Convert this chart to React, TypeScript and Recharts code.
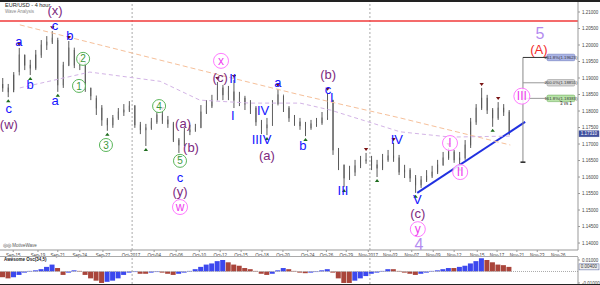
import React from "react";
import { ComposedChart, Bar, Scatter, XAxis, YAxis, ReferenceLine, Cell } from "recharts";

// EUR/USD 4h candles, one slot per half trading day
const firstOpen = 1.188;
const closes = [
  1.187, 1.1858, 1.1909, 1.197, 1.1939, 1.193, 1.197, 1.2, 1.2009, 1.2021,
  1.1879, 1.1939, 1.1991, 1.1939, 1.1949, 1.187, 1.1846, 1.1809, 1.1773, 1.1758,
  1.1779, 1.1797, 1.1803, 1.1815, 1.1758, 1.1743, 1.1749, 1.1767, 1.1788, 1.1773,
  1.1761, 1.1712, 1.1697, 1.1737, 1.1743, 1.1749, 1.1797, 1.1815, 1.1833, 1.187,
  1.1849, 1.1858, 1.1833, 1.1839, 1.1821, 1.1809, 1.1767, 1.1749, 1.1758, 1.1818,
  1.1849, 1.1809, 1.1779, 1.1767, 1.1755, 1.1749, 1.1761, 1.1764, 1.1779, 1.1833,
  1.1682, 1.1637, 1.1597, 1.1615, 1.1634, 1.1652, 1.1652, 1.1637, 1.1627, 1.1652,
  1.1664, 1.1658, 1.1615, 1.1621, 1.1597, 1.1576, 1.1591, 1.1603, 1.1615, 1.1637,
  1.1658, 1.1676, 1.1652, 1.1658, 1.1697, 1.1767, 1.1809, 1.1839, 1.1803, 1.1779,
  1.1809, 1.1797, 1.1731,
];
const highs = [
  1.19, 1.1882, 1.1918, 1.1991, 1.197, 1.1955, 1.1985, 1.2015, 1.2027, 1.2042,
  1.2015, 1.1949, 1.2012, 1.1985, 1.1961, 1.1949, 1.187, 1.1839, 1.1818, 1.1779,
  1.1788, 1.1809, 1.1821, 1.183, 1.1818, 1.1767, 1.1761, 1.1779, 1.1797, 1.1797,
  1.1785, 1.1767, 1.1718, 1.1749, 1.1758, 1.1761, 1.1818, 1.1833, 1.1849, 1.1888,
  1.1879, 1.1876, 1.1894, 1.1858, 1.1846, 1.1833, 1.1815, 1.1773, 1.1779, 1.1833,
  1.1867, 1.1846, 1.1815, 1.1788, 1.1779, 1.1767, 1.1773, 1.1779, 1.1797, 1.1855,
  1.1833, 1.1688, 1.1637, 1.1634, 1.1652, 1.1664, 1.1673, 1.1664, 1.1652, 1.167,
  1.1682, 1.1703, 1.1667, 1.1637, 1.1627, 1.1606, 1.1603, 1.1621, 1.1634, 1.1652,
  1.1676, 1.1688, 1.1682, 1.1676, 1.1712, 1.1779, 1.1821, 1.187, 1.1849, 1.1809,
  1.1827, 1.1821, 1.1803,
];
const lows = [
  1.1858, 1.1842, 1.1864, 1.1918, 1.1924, 1.1909, 1.1924, 1.1961, 1.1985, 1.2003,
  1.1858, 1.187, 1.1936, 1.193, 1.1924, 1.1858, 1.1833, 1.1788, 1.1755, 1.174,
  1.1749, 1.1773, 1.1785, 1.1797, 1.1749, 1.173, 1.1694, 1.1743, 1.1761, 1.1761,
  1.1749, 1.1706, 1.1673, 1.1694, 1.1727, 1.1737, 1.1749, 1.1791, 1.1809, 1.1833,
  1.1833, 1.1833, 1.1809, 1.1815, 1.1803, 1.1791, 1.1755, 1.173, 1.1727, 1.1755,
  1.1821, 1.1797, 1.1767, 1.1755, 1.1743, 1.1724, 1.1743, 1.1752, 1.1758, 1.1773,
  1.1667, 1.1621, 1.157, 1.1591, 1.1603, 1.1627, 1.164, 1.1621, 1.16, 1.1621,
  1.1646, 1.1646, 1.1606, 1.1597, 1.1585, 1.1552, 1.1567, 1.1585, 1.1597, 1.1609,
  1.1634, 1.1652, 1.1643, 1.1634, 1.1652, 1.1688, 1.1758, 1.1803, 1.1791, 1.1752,
  1.1773, 1.1785, 1.1727,
];

// Awesome oscillator (34,5)
const aoValues = [
  -0.005, -0.006, -0.005, -0.003, -0.001, 0.0005, 0.001, 0.002, 0.004, 0.006,
  0.003, -0.003, -0.001, 0.001, 0.0005, -0.003, -0.006, -0.008, -0.01, -0.009,
  -0.008, -0.006, -0.003, -0.001, -0.0005, -0.002, -0.002, -0.001, -0.0005, -0.001,
  -0.002, -0.003, -0.002, -0.001, 0.0005, 0.002, 0.004, 0.006, 0.007, 0.009,
  0.01, 0.008, 0.006, 0.005, 0.003, 0.002, 0.0005, -0.002, -0.003, -0.002,
  0.001, 0.003, 0.002, 0.0005, -0.001, -0.0015, -0.001, -0.0005, 0.001, 0.002,
  -0.001, -0.006, -0.01, -0.01, -0.008, -0.006, -0.004, -0.002, -0.001, 0.0005,
  0.002, 0.002, 0.0005, -0.001, -0.002, -0.003, -0.002, -0.001, 0.0005, 0.001,
  0.002, 0.003, 0.003, 0.004, 0.005, 0.007, 0.009, 0.0115, 0.01, 0.008,
  0.006, 0.0055, 0.004,
];

const dateLabels = [
  "Sep-15", "Sep-19", "Sep-21", "Sep-24", "Sep-27", "Oct-2017", "Oct-04", "Oct-06", "Oct-10",
  "Oct-12", "Oct-15", "Oct-18", "Oct-20", "Oct-24", "Oct-26", "Oct-29", "Nov-2017", "Nov-03",
  "Nov-07", "Nov-09", "Nov-12", "Nov-15", "Nov-17", "Nov-21", "Nov-23", "Nov-26",
];
const dateSlots = [
  1.9, 6.4, 10.0, 14.0, 18.2, 23.3, 27.5, 31.5, 35.7, 39.5, 43.3, 47.1, 50.9, 55.4, 58.8,
  62.4, 66.4, 70.4, 74.3, 78.2, 82.0, 86.2, 89.8, 93.4, 97.1, 100.9,
];
const monthSlots = [23.5, 66.7];

const priceTicks = [
  1.14, 1.145, 1.15, 1.155, 1.16, 1.165, 1.17, 1.175, 1.18, 1.185, 1.19, 1.195, 1.2, 1.205, 1.21,
];
const aoTicks = [-0.01, 0.01];

const redLevel = 1.2073;

const highPivots = [3, 9, 12, 29, 39, 42, 50, 59, 66, 71, 81, 87, 90];
const lowPivots = [1, 5, 10, 19, 26, 32, 48, 55, 62, 68, 75, 83, 89];

const waveLabels = [
  { slot: 9.5, price: 1.2106, text: "(x)", kind: "purple" },
  { slot: 9.5, price: 1.2061, text: "c", kind: "blue" },
  { slot: 2.95, price: 1.2012, text: "a", kind: "blue" },
  { slot: 4.95, price: 1.1882, text: "b", kind: "blue" },
  { slot: 12.2, price: 1.203, text: "b", kind: "blue" },
  { slot: 9.5, price: 1.1833, text: "a", kind: "blue" },
  { slot: 1.1, price: 1.1809, text: "c", kind: "blue" },
  { slot: 1.1, price: 1.1761, text: "(w)", kind: "purple" },
  { slot: 14.6, price: 1.1958, text: "2", kind: "green" },
  { slot: 13.85, price: 1.1876, text: "1", kind: "green" },
  { slot: 18.75, price: 1.1697, text: "3", kind: "green" },
  { slot: 28.4, price: 1.1815, text: "4", kind: "green" },
  { slot: 32.2, price: 1.1649, text: "5", kind: "green" },
  { slot: 32.2, price: 1.16, text: "c", kind: "blue" },
  { slot: 32.2, price: 1.1558, text: "(y)", kind: "purple" },
  { slot: 32.2, price: 1.1509, text: "w", kind: "pink" },
  { slot: 32.75, price: 1.1764, text: "(a)", kind: "purple" },
  { slot: 34.2, price: 1.1691, text: "(b)", kind: "purple" },
  { slot: 39.65, price: 1.1952, text: "x", kind: "pink" },
  { slot: 39.5, price: 1.1903, text: "(c)", kind: "purple" },
  { slot: 41.8, price: 1.19, text: "II", kind: "blue" },
  { slot: 41.8, price: 1.1788, text: "I", kind: "blue" },
  { slot: 47.3, price: 1.1803, text: "IV", kind: "blue" },
  { slot: 46.2, price: 1.1715, text: "III", kind: "blue" },
  { slot: 48.0, price: 1.1715, text: "V", kind: "blue" },
  { slot: 48.0, price: 1.1667, text: "(a)", kind: "purple" },
  { slot: 50.0, price: 1.1888, text: "a", kind: "blue" },
  { slot: 54.5, price: 1.1697, text: "b", kind: "blue" },
  { slot: 59.1, price: 1.1912, text: "(b)", kind: "purple" },
  { slot: 59.1, price: 1.1867, text: "c", kind: "blue" },
  { slot: 59.8, price: 1.1842, text: "I", kind: "blue" },
  { slot: 61.8, price: 1.1561, text: "III", kind: "blue" },
  { slot: 71.6, price: 1.1715, text: "IV", kind: "blue" },
  { slot: 75.3, price: 1.1533, text: "V", kind: "blue" },
  { slot: 75.4, price: 1.1491, text: "(c)", kind: "purple" },
  { slot: 75.4, price: 1.1442, text: "y", kind: "pink" },
  { slot: 75.6, price: 1.1397, text: "4", kind: "lav" },
  { slot: 81.25, price: 1.1703, text: "I", kind: "pink" },
  { slot: 83.1, price: 1.1615, text: "II", kind: "pink" },
  { slot: 94.3, price: 1.1845, text: "III", kind: "pink" },
  { slot: 97.6, price: 1.2036, text: "5", kind: "lav" },
  { slot: 97.4, price: 1.1988, text: "(A)", kind: "red" },
];

const orangeMA = [
  { slot: 3.1, price: 1.2061 },
  { slot: 17.7, price: 1.2 },
  { slot: 35.8, price: 1.1924 },
  { slot: 54.0, price: 1.1849 },
  { slot: 72.2, price: 1.1779 },
  { slot: 92.2, price: 1.1697 },
];
const lavenderMA = [
  { slot: 3.1, price: 1.187 },
  { slot: 15.8, price: 1.1918 },
  { slot: 28.6, price: 1.189 },
  { slot: 35.8, price: 1.1833 },
  { slot: 44.9, price: 1.1824 },
  { slot: 54.0, price: 1.1824 },
  { slot: 59.5, price: 1.1803 },
  { slot: 72.2, price: 1.1737 },
  { slot: 81.3, price: 1.1721 },
  { slot: 92.2, price: 1.1724 },
];

const trendLine = [
  { slot: 75.3, price: 1.1552 },
  { slot: 94.9, price: 1.1767 },
];

const projSlot = 94.5;
const projEndSlot = 99.1;
const projBottom = 1.1645;
const fibLevels = [1.19623, 1.18855, 1.18383];
const fibNames = ["261.8%(1.19623)", "200.0%(1.18855)", "161.8%(1.18383)"];
const fibFills = ["#aab4e6", "#d6d6d6", "#b9e4a9"];
const fibStrokes = ["#6f7cc0", "#999999", "#6fae5c"];

const C = {
  blue: "#1414ff",
  purple: "#7d2a80",
  green: "#3c9a3c",
  pink: "#ee3cee",
  lav: "#b48cf0",
  red: "#f22a2a",
};

const candles = closes.map((c, i) => ({
  slot: i,
  open: i === 0 ? firstOpen : closes[i - 1],
  close: c,
  high: highs[i],
  low: lows[i],
}));

const aoRows = aoValues.map((v, i) => ({ slot: i, ao: v }));

const markers = [
  ...highPivots.map((s) => ({ slot: s, price: highs[s], dir: "down" })),
  ...lowPivots.map((s) => ({ slot: s, price: lows[s], dir: "up" })),
];

const fibTags = fibLevels.map((p, i) => ({ slot: 101.4, price: p, text: fibNames[i], idx: i }));

const lastPrice = closes[closes.length - 1];
const lastAo = aoValues[aoValues.length - 1];

const axisFont = "Liberation Sans, Arial, sans-serif";

function Candle(props: any) {
  const { x, y, width, height, payload } = props;
  if (!payload) return null;
  const top = Math.min(y, y + height);
  const h = Math.abs(height);
  const span = payload.high - payload.low || 1e-9;
  const py = (p: number) => top + ((payload.high - p) / span) * h;
  const cx = x + width / 2;
  const yo = py(payload.open);
  const yc = py(payload.close);
  const up = payload.close >= payload.open;
  const bt = Math.min(yo, yc);
  const bh = Math.max(1, Math.abs(yc - yo));
  return (
    <g>
      <line x1={cx} x2={cx} y1={top} y2={top + h} stroke="#5a5a5a" strokeWidth={1} />
      <rect x={x} y={bt} width={width} height={bh} fill={up ? "#ffffff" : "#707070"} stroke="#5a5a5a" strokeWidth={0.7} />
    </g>
  );
}

function Marker(props: any) {
  const { cx, cy, payload } = props;
  if (payload.dir === "down") {
    const t = cy - 2;
    return <path d={`M${cx - 2.2},${t - 3} L${cx + 2.2},${t - 3} L${cx},${t} Z`} fill="#7a1414" />;
  }
  const b = cy + 2;
  return <path d={`M${cx - 2.2},${b + 3} L${cx + 2.2},${b + 3} L${cx},${b} Z`} fill="#1d6b1d" />;
}

function WaveLabel(props: any) {
  const { cx, cy, payload } = props;
  const k = payload.kind;
  if (k === "green" || k === "pink") {
    const r = k === "green" ? 6.5 : payload.text.length > 2 ? 8 : 7.5;
    return (
      <g>
        <circle cx={cx} cy={cy} r={r} fill="#ffffff" fillOpacity={0.85} stroke={k === "green" ? "#59b559" : "#ff7aff"} strokeWidth={1} />
        <text x={cx} y={cy} dy="0.36em" textAnchor="middle" fontSize={k === "green" ? 10 : 12} fill={C[k as "green"]} fontFamily={axisFont}>
          {payload.text}
        </text>
      </g>
    );
  }
  const size = k === "lav" ? 16 : 13;
  return (
    <text x={cx} y={cy} dy="0.36em" textAnchor="middle" fontSize={size} fill={C[k as "blue"]} fontFamily={axisFont}>
      {payload.text}
    </text>
  );
}

function FibTag(props: any) {
  const { cx, cy, payload } = props;
  const w = 28;
  const h = 6.5;
  return (
    <g>
      <rect x={cx - w / 2} y={cy - h / 2} width={w} height={h} rx={1.5} fill={fibFills[payload.idx]} stroke={fibStrokes[payload.idx]} strokeWidth={0.6} />
      <text x={cx} y={cy} dy="0.35em" textAnchor="middle" fontSize={4.3} fill="#333" fontFamily={axisFont}>
        {payload.text}
      </text>
    </g>
  );
}

function AxisTag(props: any) {
  const { viewBox, text, fill, color } = props;
  if (!viewBox) return null;
  const x = viewBox.x + viewBox.width + 1;
  const y = viewBox.y;
  return (
    <g>
      <rect x={x} y={y - 3} width={20} height={6} fill={fill} stroke="#4a5a9a" strokeWidth={0.5} />
      <text x={x + 10} y={y} dy="0.35em" textAnchor="middle" fontSize={4.5} fill={color} fontFamily={axisFont}>
        {text}
      </text>
    </g>
  );
}

const noDot = () => <g />;

const xDomain = [-0.5, 104.5];

export default function App() {
  const fmtPrice = (v: number) => v.toFixed(5);
  const tickStyle = { fontSize: 4.5, fill: "#444", fontFamily: axisFont };
  return (
    <div style={{ position: "absolute", left: 0, top: 0, width: 600, height: 285, background: "#fff", overflow: "hidden", fontFamily: axisFont }}>
      <ComposedChart width={600} height={258} data={candles} margin={{ top: 2, right: 0, bottom: 0, left: 0 }}>
        <XAxis
          type="number"
          dataKey="slot"
          domain={xDomain}
          ticks={dateSlots}
          interval={0}
          tickFormatter={(v: number, i: number) => dateLabels[i]}
          height={8}
          tickSize={2}
          tick={tickStyle}
          axisLine={{ stroke: "#999" }}
          tickLine={{ stroke: "#999" }}
          allowDataOverflow
        />
        <YAxis
          orientation="right"
          domain={[1.13789, 1.21303]}
          ticks={priceTicks}
          interval={0}
          width={22}
          tickSize={2}
          tickFormatter={fmtPrice}
          tick={tickStyle}
          axisLine={{ stroke: "#999" }}
          tickLine={{ stroke: "#999" }}
          allowDataOverflow
        />
        {monthSlots.map((s) => (
          <ReferenceLine key={s} x={s} stroke="#aaa" strokeDasharray="2 2" />
        ))}
        <ReferenceLine y={redLevel} stroke="#f03a3a" strokeWidth={1.5} />
        <Scatter data={orangeMA} dataKey="price" line={{ stroke: "#f6c09a", strokeDasharray: "5 3", strokeWidth: 1 }} shape={noDot} isAnimationActive={false} />
        <Scatter data={lavenderMA} dataKey="price" line={{ stroke: "#d3b4e6", strokeDasharray: "4 3", strokeWidth: 1 }} shape={noDot} isAnimationActive={false} />
        <Bar dataKey={(d: any) => [d.low, d.high]} barSize={3} shape={<Candle />} isAnimationActive={false} />
        <ReferenceLine segment={[{ x: trendLine[0].slot, y: trendLine[0].price }, { x: trendLine[1].slot, y: trendLine[1].price }]} stroke="#2030e0" strokeWidth={2} />
        <ReferenceLine segment={[{ x: projSlot, y: fibLevels[0] }, { x: projSlot, y: projBottom }]} stroke="#888" strokeWidth={1} />
        <ReferenceLine segment={[{ x: projSlot - 0.45, y: projBottom }, { x: projSlot + 0.45, y: projBottom }]} stroke="#222" strokeWidth={1.5} />
        {fibLevels.map((p, i) => (
          <ReferenceLine key={p} segment={[{ x: projSlot, y: p }, { x: projEndSlot, y: p }]} stroke={i === 0 ? "#333" : "#999"} strokeWidth={1} />
        ))}
        <ReferenceLine y={lastPrice} stroke="none" label={<AxisTag text={lastPrice.toFixed(5)} fill="#3f4f9f" color="#fff" />} />
        <Scatter data={markers} dataKey="price" shape={<Marker />} isAnimationActive={false} />
        <Scatter data={fibTags} dataKey="price" shape={<FibTag />} isAnimationActive={false} />
        <Scatter data={waveLabels} dataKey="price" shape={<WaveLabel />} isAnimationActive={false} />
      </ComposedChart>

      <div style={{ position: "absolute", left: 0, top: 256, width: 578, height: 1, background: "#aaa" }} />

      <div style={{ position: "absolute", left: 0, top: 255 }}>
        <ComposedChart width={600} height={30} data={aoRows} margin={{ top: 2, right: 0, bottom: 1, left: 0 }}>
          <XAxis type="number" dataKey="slot" domain={xDomain} hide allowDataOverflow />
          <YAxis
            orientation="right"
            domain={[-0.0109, 0.0126]}
            ticks={aoTicks}
            interval={0}
            width={22}
            tickSize={2}
            tickFormatter={fmtPrice}
            tick={tickStyle}
            axisLine={{ stroke: "#999" }}
            tickLine={{ stroke: "#999" }}
            allowDataOverflow
          />
          {monthSlots.map((s) => (
            <ReferenceLine key={s} x={s} stroke="#aaa" strokeDasharray="2 2" />
          ))}
          <ReferenceLine y={0} stroke="#aaa" strokeDasharray="1 1" />
          <Bar dataKey="ao" barSize={5} isAnimationActive={false}>
            {aoRows.map((r, i) => (
              <Cell key={i} fill={i > 0 && r.ao > aoValues[i - 1] ? "#3c48ee" : "#a9453b"} />
            ))}
          </Bar>
          <ReferenceLine y={lastAo} stroke="none" label={<AxisTag text={lastAo.toFixed(5)} fill="#eeeeee" color="#333" />} />
        </ComposedChart>
      </div>

      <div style={{ position: "absolute", left: 0, top: 0, width: 600, height: 1.5, background: "#222" }} />
      <div style={{ position: "absolute", left: 0, top: 283.5, width: 600, height: 1.5, background: "#222" }} />
      <div style={{ position: "absolute", left: 5, top: 3, fontSize: 5.5, color: "#222", lineHeight: 1 }}>EUR/USD - 4 hour</div>
      <div style={{ position: "absolute", left: 5, top: 10, fontSize: 4.5, color: "#888", lineHeight: 1 }}>Wave Analysis</div>
      <div style={{ position: "absolute", left: 3, top: 244, fontSize: 4.5, color: "#555", lineHeight: 1 }}>◎◎ MotiveWave</div>
      <div style={{ position: "absolute", left: 4, top: 258, fontSize: 4.5, color: "#222", fontWeight: "bold", lineHeight: 1 }}>Awesome Osc(34,5)</div>
      <div style={{ position: "absolute", left: 560, top: 102, fontSize: 4.5, color: "#222", lineHeight: 1 }}>3 vs 1</div>
    </div>
  );
}
